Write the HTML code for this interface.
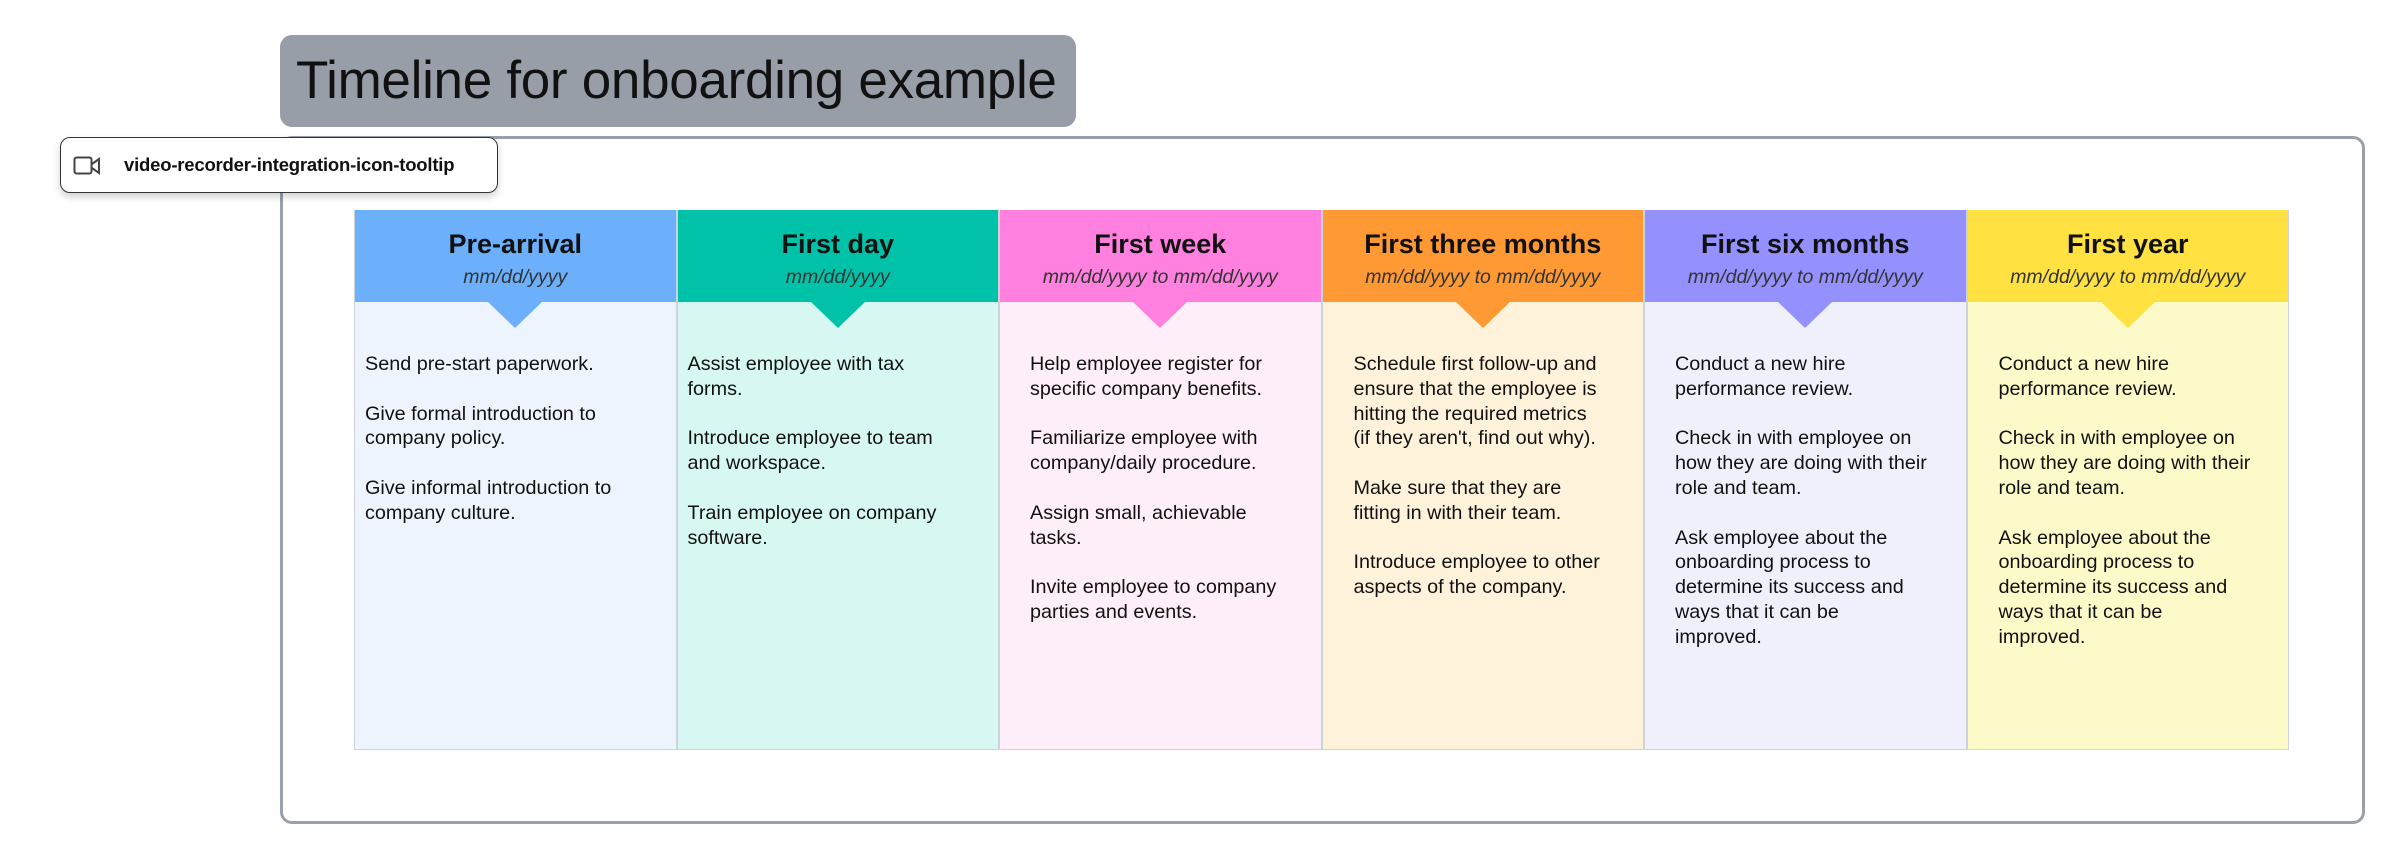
<!DOCTYPE html>
<html><head><meta charset="utf-8"><style>
*{margin:0;padding:0;box-sizing:border-box}
body{width:2400px;height:860px;background:#fff;position:relative;overflow:hidden;font-family:"Liberation Sans",sans-serif;color:#111}
.title{position:absolute;left:280px;top:35px;width:796px;height:92px;background:#989ea8;border-radius:12px;font-size:53px;line-height:92px;padding-left:16px;color:#111;letter-spacing:-0.3px}
.frame{position:absolute;left:280px;top:136px;width:2085px;height:688px;border:3px solid #9aa0aa;border-radius:12px}
.tip{position:absolute;left:60px;top:137px;width:438px;height:56px;background:#fff;border:1.5px solid #333;border-radius:10px;box-shadow:0 4px 8px rgba(0,0,0,0.18);font-weight:bold;font-size:18.5px;line-height:53px;padding-left:63px;letter-spacing:-0.2px}
.tip svg{position:absolute;left:12px;top:17px}
.col{position:absolute;top:210px;width:322.5px;height:540px;border-left:1px solid #cdd3da;border-right:1px solid #cdd3da;border-bottom:1px solid #cdd3da}
.hd{height:92px;text-align:center;position:relative}
.hd h2{font-size:27px;font-weight:bold;padding-top:18px;line-height:32px}
.hd i{display:block;font-size:19.5px;color:#333;line-height:24px;padding-top:5px}
.tri{position:absolute;left:50%;margin-left:-27px;bottom:-26px;width:0;height:0;border-left:27px solid transparent;border-right:27px solid transparent;border-top:26px solid}
.bd{padding-top:50px;font-size:19.8px;line-height:24.8px}
.bd p{margin-bottom:24.8px}
</style></head><body>
<div class="title">Timeline for onboarding example</div>
<div class="frame"></div>
<div class="tip"><svg width="28" height="22" viewBox="0 0 28 22"><rect x="1.5" y="2.5" width="17" height="16" rx="2" fill="none" stroke="#444" stroke-width="2"/><path d="M19 9 L26 4 V18 L19 13" fill="none" stroke="#444" stroke-width="2"/></svg>video-recorder-integration-icon-tooltip</div>

<div class="col" style="left:354px;background:#eef4fe"><div class="hd" style="background:#6cb0fc"><h2>Pre-arrival</h2><i>mm/dd/yyyy</i><div class="tri" style="border-top-color:#6cb0fc"></div></div>
<div class="bd" style="padding-left:10px"><p>Send pre-start paperwork.</p><p>Give formal introduction to<br>company policy.</p><p>Give informal introduction to<br>company culture.</p></div></div>

<div class="col" style="left:676.5px;background:#d7f8f2"><div class="hd" style="background:#00c2a8"><h2>First day</h2><i>mm/dd/yyyy</i><div class="tri" style="border-top-color:#00c2a8"></div></div>
<div class="bd" style="padding-left:10px"><p>Assist employee with tax<br>forms.</p><p>Introduce employee to team<br>and workspace.</p><p>Train employee on company<br>software.</p></div></div>

<div class="col" style="left:999px;background:#fdeefa"><div class="hd" style="background:#ff80df"><h2>First week</h2><i>mm/dd/yyyy to mm/dd/yyyy</i><div class="tri" style="border-top-color:#ff80df"></div></div>
<div class="bd" style="padding-left:30px"><p>Help employee register for<br>specific company benefits.</p><p>Familiarize employee with<br>company/daily procedure.</p><p>Assign small, achievable<br>tasks.</p><p>Invite employee to company<br>parties and events.</p></div></div>

<div class="col" style="left:1321.5px;background:#fef2da"><div class="hd" style="background:#ff9933"><h2>First three months</h2><i>mm/dd/yyyy to mm/dd/yyyy</i><div class="tri" style="border-top-color:#ff9933"></div></div>
<div class="bd" style="padding-left:31px"><p>Schedule first follow-up and<br>ensure that the employee is<br>hitting the required metrics<br>(if they aren't, find out why).</p><p>Make sure that they are<br>fitting in with their team.</p><p>Introduce employee to other<br>aspects of the company.</p></div></div>

<div class="col" style="left:1644px;background:#f0f0fd"><div class="hd" style="background:#9491ff"><h2>First six months</h2><i>mm/dd/yyyy to mm/dd/yyyy</i><div class="tri" style="border-top-color:#9491ff"></div></div>
<div class="bd" style="padding-left:30px"><p>Conduct a new hire<br>performance review.</p><p>Check in with employee on<br>how they are doing with their<br>role and team.</p><p>Ask employee about the<br>onboarding process to<br>determine its success and<br>ways that it can be<br>improved.</p></div></div>

<div class="col" style="left:1966.5px;background:#fbfac8"><div class="hd" style="background:#ffe142"><h2>First year</h2><i>mm/dd/yyyy to mm/dd/yyyy</i><div class="tri" style="border-top-color:#ffe142"></div></div>
<div class="bd" style="padding-left:31px"><p>Conduct a new hire<br>performance review.</p><p>Check in with employee on<br>how they are doing with their<br>role and team.</p><p>Ask employee about the<br>onboarding process to<br>determine its success and<br>ways that it can be<br>improved.</p></div></div>
</body></html>
